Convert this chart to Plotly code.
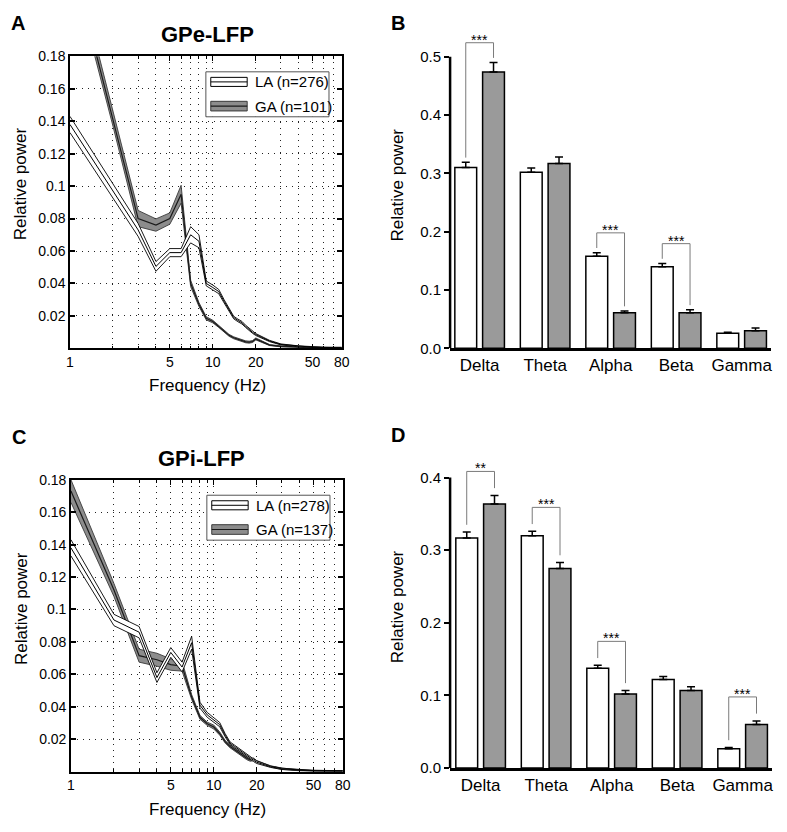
import numpy as np
import plotly.graph_objects as go

# ---------------- data ----------------
FREQ = [1, 2, 3, 4, 5, 6, 7, 8, 9, 10, 11, 12, 13, 14, 15, 16, 17, 18, 19, 20, 25, 30, 40, 50, 60, 70, 80]

GPE_LA_MEAN = [0.138, 0.097, 0.073, 0.0505, 0.059, 0.059, 0.070, 0.066, 0.040, 0.0375, 0.035, 0.029, 0.0235,
               0.019, 0.0172, 0.0158, 0.0135, 0.0115, 0.0098, 0.0085, 0.0045, 0.0024, 0.0012, 0.0007, 0.0005,
               0.0004, 0.0004]
GPE_LA_SEM = [0.005, 0.0045, 0.004, 0.003, 0.0025, 0.0025, 0.005, 0.004, 0.0015, 0.0015, 0.0013, 0.001, 0.0008,
              0.0008, 0.0008, 0.0008, 0.0007, 0.0007, 0.0006, 0.0006, 0.0004, 0.0003, 0.0003, 0.0002, 0.0002,
              0.0002, 0.0002]
GPE_GA_MEAN = [0.245, 0.142, 0.080, 0.076, 0.080, 0.095, 0.040, 0.027, 0.0185, 0.0165, 0.0135, 0.0105, 0.008,
               0.0065, 0.0055, 0.0046, 0.004, 0.0038, 0.0042, 0.0058, 0.002, 0.0012, 0.0007, 0.0005, 0.0004,
               0.0004, 0.0004]
GPE_GA_SEM = [0.006, 0.005, 0.005, 0.0038, 0.0035, 0.0055, 0.002, 0.0012, 0.001, 0.0008, 0.0006, 0.0006, 0.0006,
              0.0006, 0.0006, 0.0006, 0.0006, 0.0006, 0.0006, 0.0006, 0.0003, 0.0003, 0.0002, 0.0002, 0.0002,
              0.0002, 0.0002]

GPI_LA_MEAN = [0.138, 0.0935, 0.086, 0.058, 0.0735, 0.0645, 0.0795, 0.041, 0.035, 0.032, 0.029, 0.0225, 0.0175,
               0.0155, 0.0135, 0.0115, 0.0102, 0.0085, 0.007, 0.0058, 0.003, 0.0017, 0.0009, 0.0006, 0.0005,
               0.0005, 0.0004]
GPI_LA_SEM = [0.005, 0.0035, 0.0035, 0.003, 0.003, 0.003, 0.004, 0.0018, 0.0015, 0.0015, 0.0013, 0.001, 0.0008,
              0.0008, 0.0008, 0.0008, 0.0008, 0.0008, 0.0008, 0.0008, 0.0004, 0.0004, 0.0003, 0.0002, 0.0002,
              0.0002, 0.0002]
GPI_GA_MEAN = [0.173, 0.112, 0.0715, 0.069, 0.066, 0.065, 0.046, 0.0335, 0.0295, 0.0275, 0.0235, 0.0185, 0.0155,
               0.0135, 0.0115, 0.0097, 0.0082, 0.0072, 0.0076, 0.0062, 0.0032, 0.0018, 0.0008, 0.0006, 0.0005,
               0.0005, 0.0004]
GPI_GA_SEM = [0.007, 0.004, 0.004, 0.004, 0.0035, 0.003, 0.0015, 0.0012, 0.001, 0.0012, 0.001, 0.0008, 0.0008,
              0.0008, 0.0008, 0.0008, 0.0008, 0.0008, 0.0008, 0.0006, 0.0004, 0.0004, 0.0003, 0.0002, 0.0002,
              0.0002, 0.0002]

BANDS = ["Delta", "Theta", "Alpha", "Beta", "Gamma"]
GPE_BAR_LA = [0.310, 0.302, 0.158, 0.140, 0.026]
GPE_BAR_LA_ERR = [0.009, 0.007, 0.006, 0.0055, 0.0015]
GPE_BAR_GA = [0.474, 0.317, 0.061, 0.061, 0.030]
GPE_BAR_GA_ERR = [0.016, 0.011, 0.003, 0.005, 0.005]
GPE_SIG = {0: "***", 2: "***", 3: "***"}

GPI_BAR_LA = [0.317, 0.320, 0.1375, 0.122, 0.0266]
GPI_BAR_LA_ERR = [0.008, 0.006, 0.004, 0.004, 0.0018]
GPI_BAR_GA = [0.3635, 0.275, 0.102, 0.107, 0.060]
GPI_BAR_GA_ERR = [0.012, 0.008, 0.005, 0.005, 0.005]
GPI_SIG = {0: "**", 1: "***", 2: "***", 4: "***"}

LA_LABELS = ["LA (n=276)", "LA (n=278)"]
GA_LABELS = ["GA (n=101)", "GA (n=137)"]

# ---------------- style ----------------
W, H = 787, 832
FONT = "Liberation Sans"
GRAY_BAND = "#8c8c8c"
GRAY_BAR = "#9a9a9a"
BARGAP = 0.152
BARGROUPGAP = 0.214
GRID_DASH = "1px,5px"


def px_x(p):
    return p / W


def px_y(p):
    return 1 - p / H


fig = go.Figure()


def add_band(xa, ya, mean, sem, fill, edge, mean_col, mean_w):
    m = np.array(mean)
    s = np.array(sem)
    fig.add_trace(go.Scatter(x=FREQ, y=m - s, mode="lines", line=dict(color=edge, width=0.9),
                             xaxis=xa, yaxis=ya, showlegend=False, hoverinfo="skip"))
    fig.add_trace(go.Scatter(x=FREQ, y=m + s, mode="lines", line=dict(color=edge, width=0.9),
                             fill="tonexty", fillcolor=fill,
                             xaxis=xa, yaxis=ya, showlegend=False, hoverinfo="skip"))
    fig.add_trace(go.Scatter(x=FREQ, y=m, mode="lines", line=dict(color=mean_col, width=mean_w),
                             xaxis=xa, yaxis=ya, showlegend=False, hoverinfo="skip"))


# spectra panels: GA first then LA on top
add_band("x", "y", GPE_GA_MEAN, GPE_GA_SEM, GRAY_BAND, "#3a3a3a", "#1a1a1a", 1.2)
add_band("x", "y", GPE_LA_MEAN, GPE_LA_SEM, "white", "black", "black", 1.0)
add_band("x3", "y3", GPI_GA_MEAN, GPI_GA_SEM, GRAY_BAND, "#3a3a3a", "#1a1a1a", 1.2)
add_band("x3", "y3", GPI_LA_MEAN, GPI_LA_SEM, "white", "black", "black", 1.0)

# bar panels
off = (1 - BARGAP) / 4.0
xs = list(range(len(BANDS)))


def add_bars(xa, ya, la, la_e, ga, ga_e, sig, gap, rise):
    fig.add_trace(go.Bar(x=xs, y=la, marker=dict(color="white", line=dict(color="black", width=1.5)),
                         error_y=dict(type="data", symmetric=False, array=la_e, arrayminus=[0] * len(la),
                                      color="black", thickness=1.5, width=4),
                         xaxis=xa, yaxis=ya, showlegend=False))
    fig.add_trace(go.Bar(x=xs, y=ga, marker=dict(color=GRAY_BAR, line=dict(color="black", width=1.5)),
                         error_y=dict(type="data", symmetric=False, array=ga_e, arrayminus=[0] * len(ga),
                                      color="black", thickness=1.5, width=4),
                         xaxis=xa, yaxis=ya, showlegend=False))
    for i, stars in sig.items():
        t_la = la[i] + la_e[i]
        t_ga = ga[i] + ga_e[i]
        top = max(t_la, t_ga) + rise
        fig.add_trace(go.Scatter(x=[i - off, i - off, i + off, i + off],
                                 y=[t_la + gap, top, top, t_ga + gap],
                                 mode="lines", line=dict(color="#7a7a7a", width=1),
                                 xaxis=xa, yaxis=ya, showlegend=False, hoverinfo="skip"))
        fig.add_annotation(x=i, y=top, xref=xa, yref=ya, text=stars, showarrow=False,
                           yanchor="middle", yshift=3, font=dict(size=14, family=FONT, color="black"))


add_bars("x2", "y2", GPE_BAR_LA, GPE_BAR_LA_ERR, GPE_BAR_GA, GPE_BAR_GA_ERR, GPE_SIG, 0.008, 0.034)
add_bars("x4", "y4", GPI_BAR_LA, GPI_BAR_LA_ERR, GPI_BAR_GA, GPI_BAR_GA_ERR, GPI_SIG, 0.01, 0.033)

# ---------------- axes ----------------
spec_x = dict(type="log", range=[0, np.log10(80)], tickvals=[1, 5, 10, 20, 50, 80],
              ticktext=["1", "5", "10", "20", "50", "80"], ticks="inside", ticklen=5, tickwidth=1.2,
              tickcolor="black",
              showgrid=True, gridcolor="#222", griddash=GRID_DASH, gridwidth=1,
              minor=dict(tickvals=[2, 3, 4, 6, 7, 8, 9, 30, 40, 60, 70], ticks="inside", ticklen=3,
                         tickcolor="black", showgrid=True, gridcolor="#222", griddash=GRID_DASH, gridwidth=1),
              showline=True, linecolor="black", linewidth=1.5, mirror="ticks", zeroline=False,
              tickfont=dict(size=14, family=FONT, color="black"))
spec_y = dict(range=[0, 0.18], tickvals=[0.02, 0.04, 0.06, 0.08, 0.1, 0.12, 0.14, 0.16, 0.18],
              ticktext=["0.02", "0.04", "0.06", "0.08", "0.1", "0.12", "0.14", "0.16", "0.18"],
              ticks="inside", ticklen=5, tickwidth=1.5, tickcolor="black",
              showgrid=True, gridcolor="#222", griddash=GRID_DASH, gridwidth=1,
              showline=True, linecolor="black", linewidth=1.5, mirror="ticks", zeroline=False,
              tickfont=dict(size=14, family=FONT, color="black"))

bar_x = dict(tickvals=xs, ticktext=BANDS, ticks="", showgrid=False, zeroline=False,
             showline=True, linecolor="black", linewidth=2.5,
             tickfont=dict(size=17, family=FONT, color="black"))
bar_y = dict(ticks="outside", ticklen=5, tickwidth=2, tickcolor="black", tickformat=".1f",
             showgrid=False, zeroline=False, showline=False,
             tickfont=dict(size=15, family=FONT, color="black"))

fig.update_layout(
    xaxis=dict(domain=[px_x(67), px_x(343)], anchor="y", **spec_x),
    yaxis=dict(domain=[px_y(347), px_y(49.3)], anchor="x", **spec_y),
    xaxis3=dict(domain=[px_x(68), px_x(344)], anchor="y3", **spec_x),
    yaxis3=dict(domain=[px_y(778.6), px_y(481)], anchor="x3", **spec_y),
    xaxis2=dict(domain=[px_x(453), px_x(779)], anchor="y2", range=[-0.451, 4.45], **bar_x),
    yaxis2=dict(domain=[px_y(347), px_y(14)], anchor="x2", range=[0, 0.56],
                tickvals=[0, 0.1, 0.2, 0.3, 0.4, 0.5], **bar_y),
    xaxis4=dict(domain=[px_x(453), px_x(780)], anchor="y4", range=[-0.466, 4.45], **bar_x),
    yaxis4=dict(domain=[px_y(775), px_y(464)], anchor="x4", range=[0, 0.42],
                tickvals=[0, 0.1, 0.2, 0.3, 0.4], **bar_y),
    barmode="group", bargap=BARGAP, bargroupgap=BARGROUPGAP,
    width=W, height=H, margin=dict(l=0, r=0, t=0, b=0),
    plot_bgcolor="white", paper_bgcolor="white",
    font=dict(family=FONT, color="black"),
    showlegend=False,
)

# y-axis lines of bar panels (only up to top tick)
fig.add_shape(type="line", xref="x2 domain", yref="y2", x0=0, x1=0, y0=0, y1=0.5,
              line=dict(color="black", width=2.5))
fig.add_shape(type="line", xref="x4 domain", yref="y4", x0=0, x1=0, y0=0, y1=0.4,
              line=dict(color="black", width=2.5))

# manual legends in spectra panels
for xa, ya, la_lab, ga_lab in [("x", "y", LA_LABELS[0], GA_LABELS[0]), ("x3", "y3", LA_LABELS[1], GA_LABELS[1])]:
    xr, yr = xa + " domain", ya + " domain"
    fig.add_shape(type="rect", xref=xr, yref=yr, x0=0.50, x1=0.953, y0=0.793, y1=0.947,
                  fillcolor="white", line=dict(color="#555", width=1))
    fig.add_shape(type="rect", xref=xr, yref=yr, x0=0.518, x1=0.652, y0=0.897, y1=0.928,
                  fillcolor="white", line=dict(color="black", width=1))
    fig.add_shape(type="line", xref=xr, yref=yr, x0=0.518, x1=0.652, y0=0.9125, y1=0.9125,
                  line=dict(color="black", width=1))
    fig.add_shape(type="rect", xref=xr, yref=yr, x0=0.518, x1=0.652, y0=0.813, y1=0.846,
                  fillcolor=GRAY_BAND, line=dict(color="#3a3a3a", width=1))
    fig.add_shape(type="line", xref=xr, yref=yr, x0=0.518, x1=0.652, y0=0.8295, y1=0.8295,
                  line=dict(color="#1a1a1a", width=1.2))
    fig.add_annotation(xref=xr, yref=yr, x=0.672, y=0.9125, text=la_lab, showarrow=False,
                       xanchor="left", yanchor="middle", font=dict(size=15, family=FONT))
    fig.add_annotation(xref=xr, yref=yr, x=0.672, y=0.8295, text=ga_lab, showarrow=False,
                       xanchor="left", yanchor="middle", font=dict(size=15, family=FONT))


def ptext(x, y, text, size, bold=False, angle=0):
    fig.add_annotation(xref="paper", yref="paper", x=px_x(x), y=px_y(y), text=("<b>%s</b>" % text) if bold else text,
                       showarrow=False, xanchor="center", yanchor="middle", textangle=angle,
                       font=dict(size=size, family=FONT, color="black"))


# panel letters
ptext(14, 15, "A", 20, True)
ptext(400, 15, "B", 20, True)
ptext(15, 437, "C", 20, True)
ptext(400, 435, "D", 20, True)
# titles
ptext(207, 27, "GPe-LFP", 22, True)
ptext(201, 459, "GPi-LFP", 22, True)
# axis titles
ptext(17, 179, "Relative power", 17, angle=-90)
ptext(17, 612, "Relative power", 17, angle=-90)
ptext(400, 180, "Relative power", 17, angle=-90)
ptext(399, 610, "Relative power", 17, angle=-90)
ptext(207, 385, "Frequency (Hz)", 17)
ptext(207, 817, "Frequency (Hz)", 17)

fig.write_html("out.html", config={"displayModeBar": False},
               post_script="document.body.style.margin='0';document.body.style.overflow='hidden';")
